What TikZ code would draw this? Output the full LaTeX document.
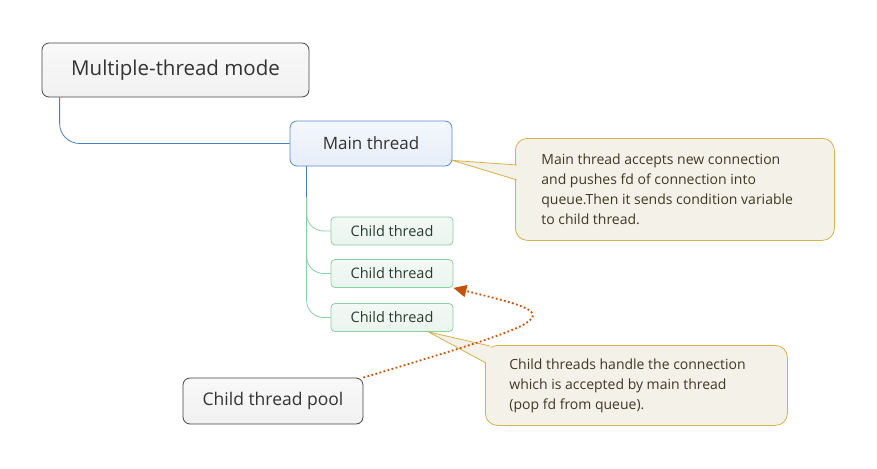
\documentclass[tikz,border=0pt]{standalone}
\usepackage{fontspec}
\setmainfont{Open Sans}
\usetikzlibrary{arrows.meta}
\definecolor{rootline}{HTML}{454545}
\definecolor{roottop}{HTML}{F9F9F9}
\definecolor{rootbot}{HTML}{F1F1F1}
\definecolor{mainline}{HTML}{5A8CCC}
\definecolor{maintop}{HTML}{F4F7FC}
\definecolor{mainbot}{HTML}{E7EEF8}
\definecolor{linkblue}{HTML}{4A7EBB}
\definecolor{childline}{HTML}{8CCFA4}
\definecolor{childtop}{HTML}{F3F9F5}
\definecolor{childbot}{HTML}{EAF4EE}
\definecolor{childtext}{HTML}{2A3C31}
\definecolor{noteline}{HTML}{D4B24C}
\definecolor{notefill}{HTML}{F3F1E8}
\definecolor{notetext}{HTML}{3E3826}
\definecolor{poolarrow}{HTML}{C4520C}
\begin{document}
\begin{tikzpicture} [x=1pt,y=-1pt,
  topic/.style={draw=rootline,line width=0.8pt,rounded corners=7pt,top color=roottop,bottom color=rootbot,text=black!80,inner sep=0pt},
  main/.style={draw=mainline,line width=0.8pt,rounded corners=7pt,top color=maintop,bottom color=mainbot,text=black!80,inner sep=0pt,
    minimum width=162pt,minimum height=45pt,font=\fontsize{17}{20}\selectfont},
  sub/.style={draw=childline,line width=0.8pt,rounded corners=4pt,top color=childtop,bottom color=childbot,text=childtext,inner sep=0pt,
    minimum width=122pt,minimum height=28pt,font=\fontsize{14.5}{17}\selectfont},
  note/.style={draw=noteline,line width=0.8pt,fill=notefill,rounded corners=12pt,text=notetext,align=flush left,
    inner xsep=26pt,anchor=north west,font=\fontsize{14}{20}\selectfont}]
\useasboundingbox (0,0) rectangle (877,468);
\node [topic,minimum width=267pt,minimum height=54pt,font=\fontsize{20.5}{24}\selectfont] (a) at (175.5,70) {Multiple-thread mode};
\node [main] (b) at (371,143.5) {Main thread};
\node [sub] (c) at (392,231) {Child thread};
\node [sub] (d) at (392,273.5) {Child thread};
\node [sub] (e) at (392,317.5) {Child thread};
\node [topic,minimum width=180pt,minimum height=46pt,font=\fontsize{17.5}{21}\selectfont] (f) at (273,401) {Child thread pool};
% callouts
\node [note,text width=267pt,minimum height=102pt] (g) at (515,138)
  {Main thread accepts new connection\\and pushes fd of connection into\\queue.Then it sends condition variable\\to child thread.};
\node [note,inner xsep=24pt,text width=254pt,minimum height=80pt] (h) at (485,345)
  {Child threads handle the connection\\which is accepted by main thread\\(pop fd from queue).};
\fill [notefill] ([yshift=6pt]b.south east) -- ([xshift=2pt,yshift=-27pt]g.north west) -- ([xshift=2pt,yshift=-42pt]g.north west) -- cycle;
\draw [noteline,line width=0.8pt] ([xshift=2pt,yshift=-27pt]g.north west) -- ([yshift=6pt]b.south east) -- ([xshift=2pt,yshift=-42pt]g.north west);
\fill [notefill] ([xshift=-25pt]e.south east) -- ([xshift=5pt,yshift=-1pt]h.north west) -- ([xshift=10pt,yshift=-10pt]h.north west) -- ([xshift=1pt,yshift=-18pt]h.north west) -- cycle;
\draw [noteline,line width=0.8pt] ([xshift=5pt,yshift=-1pt]h.north west) -- ([xshift=-25pt]e.south east) -- ([xshift=1pt,yshift=-18pt]h.north west);
% branches
\coordinate (s) at ([xshift=17pt,yshift=-31pt]b.south west);
\draw [linkblue,line width=0.8pt,rounded corners=20pt] ([xshift=18pt]a.south west) |- (b.west);
\foreach \n in {c,d,e}
  \draw [childline,line width=0.8pt,rounded corners=17pt] (s) |- (\n.west);
\draw [linkblue,line width=0.8pt] ([xshift=17pt]b.south west) -- (s);
\draw [poolarrow,line width=1.8pt,dash pattern=on 1.8pt off 2.4pt,-{Triangle[length=13pt,width=12pt]}]
  (f.north east) .. controls (568,316) .. (d.south east);
\end{tikzpicture}
\end{document}
